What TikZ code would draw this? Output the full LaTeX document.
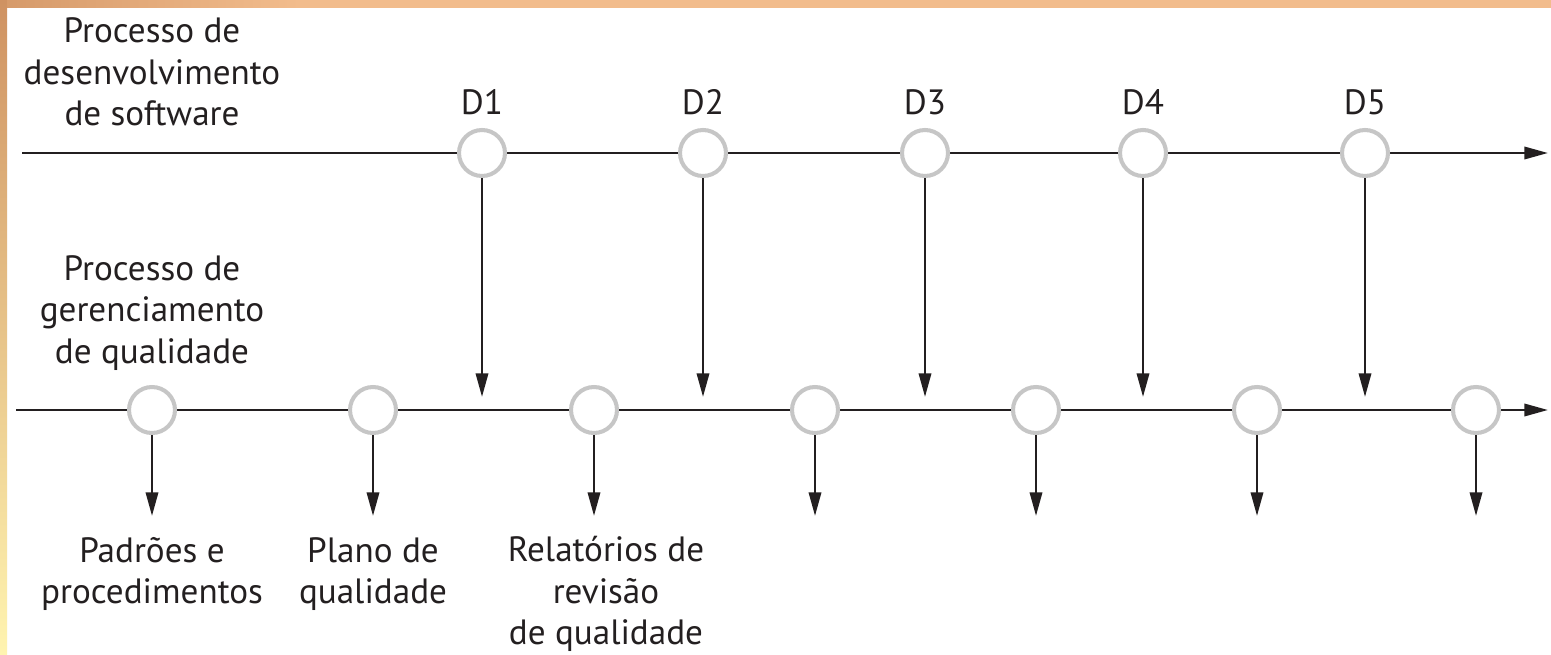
\documentclass[tikz,border=0pt]{standalone}
\usepackage{fontspec}
\setmainfont{PT Sans}
\usetikzlibrary{arrows.meta}
\definecolor{ink}{HTML}{231F20}
\definecolor{ringgray}{HTML}{C6C6C6}
\definecolor{stripA}{HTML}{CF9262}
\definecolor{stripB}{HTML}{FFF4B0}
\definecolor{topstrip}{HTML}{F2BC8C}
\begin{document}
\begin{tikzpicture}[x=0.02cm,y=-0.02cm,
  flowline/.style={ink, line width=1.5pt},
  arr/.style={flowline, -{Triangle[length=13.5pt,width=7pt]}},
  ring/.style={circle, draw=ringgray, line width=2.3pt, fill=white, minimum size=0.92cm, inner sep=0pt},
  lbl/.style={font=\fontsize{20}{23.6}\selectfont, align=center, inner sep=0pt, text=ink}]
\useasboundingbox (0,0) rectangle (1551,655);
\fill[white] (0,0) rectangle (1551,655);
\shade[top color=stripA, bottom color=stripB] (0,0) rectangle (7,655);
\shade[left color=stripA!80!topstrip, right color=topstrip] (7,0) rectangle (300,8);
\fill[topstrip] (300,0) rectangle (1551,8);
% main lines
\coordinate (topstart) at (22,153);
\coordinate (topend) at (1548,153);
\coordinate (botstart) at (16,410);
\coordinate (botend) at (1548,410);
\draw[arr] (topstart) -- (topend);
\draw[arr] (botstart) -- (botend);
% development milestones
\foreach \n/\x in {1/482,2/703,3/925,4/1143,5/1365}{
  \node[ring] (d\n) at (\x,153) {};
  \node[lbl] (dl\n) at (\x,102) {D\n};
  \coordinate (t\n) at (\x,397);
  \draw[arr] (d\n.south) -- (t\n);
}
% quality milestones
\foreach \n/\x in {1/152,2/373,3/594,4/815,5/1036,6/1257,7/1476}{
  \node[ring] (q\n) at (\x,410) {};
  \coordinate (b\n) at (\x,516);
  \draw[arr] (q\n.south) -- (b\n);
}
% labels
\node[lbl] (devlbl) at (152,72) {Processo de\\desenvolvimento\\de software};
\node[lbl] (qlbl) at (152,313) {Processo de\\gerenciamento\\de qualidade};
\node[lbl] (out1) at (152,574) {Padrões e\\procedimentos};
\node[lbl] (out2) at (373,574) {Plano de\\qualidade};
\node[lbl] (out3) at (606,594) {Relatórios de\\revisão\\de qualidade};
\end{tikzpicture}
\end{document}
